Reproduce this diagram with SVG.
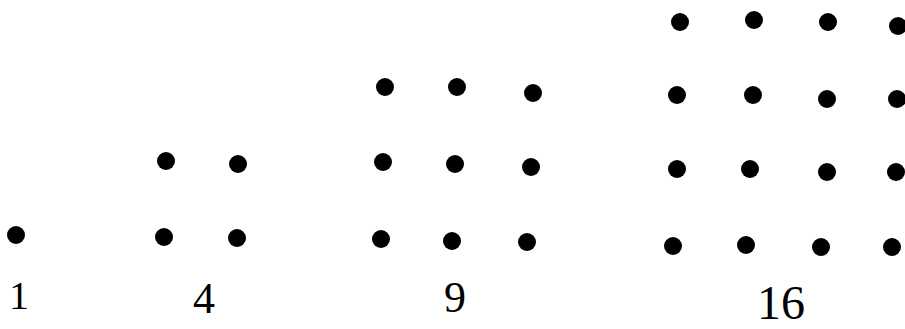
<svg xmlns="http://www.w3.org/2000/svg" width="905" height="329" viewBox="0 0 905 329">
<style>
.d{fill:#000}
.l{font-family:"Liberation Serif",serif;fill:#000;text-anchor:middle}
</style>
<rect width="905" height="329" fill="#fff"/>
<g id="n1">
<circle class="d" cx="16" cy="235" r="9"/>
<text class="l" x="19" y="309" font-size="40">1</text>
</g>
<g id="n4">
<circle class="d" cx="166" cy="161" r="9"/>
<circle class="d" cx="238" cy="164" r="9"/>
<circle class="d" cx="164" cy="237" r="9"/>
<circle class="d" cx="237" cy="238" r="9"/>
<text class="l" x="204" y="313" font-size="44">4</text>
</g>
<g id="n9">
<circle class="d" cx="385" cy="87" r="9"/>
<circle class="d" cx="457" cy="87" r="9"/>
<circle class="d" cx="533" cy="93" r="9"/>
<circle class="d" cx="383" cy="162" r="9"/>
<circle class="d" cx="455" cy="164" r="9"/>
<circle class="d" cx="531" cy="167" r="9"/>
<circle class="d" cx="381" cy="239" r="9"/>
<circle class="d" cx="452" cy="241" r="9"/>
<circle class="d" cx="527" cy="242" r="9"/>
<text class="l" x="455" y="312" font-size="44">9</text>
</g>
<g id="n16">
<circle class="d" cx="680" cy="22" r="9"/>
<circle class="d" cx="754" cy="20" r="9"/>
<circle class="d" cx="828" cy="22" r="9"/>
<circle class="d" cx="898" cy="26" r="9"/>
<circle class="d" cx="677" cy="95" r="9"/>
<circle class="d" cx="753" cy="95" r="9"/>
<circle class="d" cx="827" cy="99" r="9"/>
<circle class="d" cx="897" cy="99" r="9"/>
<circle class="d" cx="677" cy="169" r="9"/>
<circle class="d" cx="750" cy="169" r="9"/>
<circle class="d" cx="827" cy="172" r="9"/>
<circle class="d" cx="896" cy="172" r="9"/>
<circle class="d" cx="673" cy="246" r="9"/>
<circle class="d" cx="746" cy="245" r="9"/>
<circle class="d" cx="821" cy="247" r="9"/>
<circle class="d" cx="892" cy="247" r="9"/>
<text class="l" x="781" y="319" font-size="48">16</text>
</g>
<g id="connectors"></g>
</svg>
